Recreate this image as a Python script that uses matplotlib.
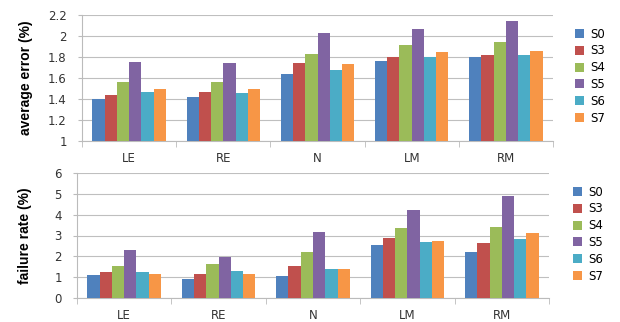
import matplotlib
matplotlib.use("Agg")
import matplotlib.pyplot as plt
import numpy as np

categories = ["LE", "RE", "N", "LM", "RM"]
series = ["S0", "S3", "S4", "S5", "S6", "S7"]
colors = ["#4F81BD", "#C0504D", "#9BBB59", "#8064A2", "#4BACC6", "#F79646"]

avg_S0 = [1.40, 1.42, 1.64, 1.76, 1.80]
avg_S3 = [1.44, 1.47, 1.74, 1.80, 1.82]
avg_S4 = [1.56, 1.56, 1.83, 1.91, 1.94]
avg_S5 = [1.75, 1.74, 2.03, 2.07, 2.14]
avg_S6 = [1.47, 1.46, 1.68, 1.80, 1.82]
avg_S7 = [1.50, 1.50, 1.73, 1.85, 1.86]

fail_S0 = [1.09, 0.92, 1.06, 2.54, 2.22]
fail_S3 = [1.25, 1.17, 1.56, 2.86, 2.62]
fail_S4 = [1.56, 1.62, 2.19, 3.36, 3.39]
fail_S5 = [2.30, 1.98, 3.15, 4.23, 4.90]
fail_S6 = [1.24, 1.29, 1.41, 2.67, 2.85]
fail_S7 = [1.14, 1.14, 1.37, 2.72, 3.12]

avg_data = [avg_S0, avg_S3, avg_S4, avg_S5, avg_S6, avg_S7]
fail_data = [fail_S0, fail_S3, fail_S4, fail_S5, fail_S6, fail_S7]

W, H = 620, 322
fig = plt.figure(figsize=(6.2, 3.22), dpi=100)

def draw(rect, data, ylim, yticks, yticklabels, ylabel, legend_anchor):
    ax = fig.add_axes(rect)
    x = np.arange(len(categories))
    bw = 0.13
    for i, (s, vals) in enumerate(zip(series, data)):
        off = (i - 2.5) * bw
        ax.bar(x + off, [v - ylim[0] for v in vals], bw, bottom=ylim[0],
               color=colors[i], label=s, zorder=3)
    ax.set_xlim(-0.5, len(categories) - 0.5)
    ax.set_ylim(*ylim)
    ax.set_yticks(yticks)
    ax.set_yticklabels(yticklabels, fontsize=8.5, color="#333333")
    ax.set_xticks(x)
    ax.set_xticklabels(categories, fontsize=8.5, color="#333333")
    ax.tick_params(axis="x", length=0, pad=8)
    ax.tick_params(axis="y", length=3, color="#BBBBBB", pad=8)
    ax.set_xticks(np.arange(-0.5, len(categories) + 0.5, 1), minor=True)
    ax.tick_params(axis="x", which="minor", length=4, color="#BBBBBB")
    ax.yaxis.grid(True, color="#BFBFBF", linewidth=0.8, zorder=0)
    for sp in ["top", "right"]:
        ax.spines[sp].set_visible(False)
    for sp in ["left", "bottom"]:
        ax.spines[sp].set_color("#BBBBBB")
    ax.set_ylabel(ylabel, fontsize=10, fontweight="bold", family="Liberation Sans")
    ax.legend(loc="upper left", bbox_to_anchor=legend_anchor, frameon=False,
              fontsize=8.5, handlelength=0.8, handleheight=0.8,
              labelspacing=0.32, handletextpad=0.5, borderaxespad=0)
    return ax

ax1 = draw([82 / W, 1 - 141 / H, (553 - 82) / W, (141 - 15) / H], avg_data,
           (1, 2.2), [1, 1.2, 1.4, 1.6, 1.8, 2.0, 2.2],
           ["1", "1.2", "1.4", "1.6", "1.8", "2", "2.2"], "average error (%)",
           ((570 - 82) / (553 - 82), 1 - (23 - 15) / 126))
ax1.yaxis.set_label_coords(-0.105, 0.5)

ax2 = draw([77 / W, 1 - 298 / H, (549 - 77) / W, (298 - 173) / H], fail_data,
           (0, 6), [0, 1, 2, 3, 4, 5, 6], ["0", "1", "2", "3", "4", "5", "6"],
           "failure rate (%)",
           ((568 - 77) / (549 - 77), 1 - (181 - 173) / 125))
ax2.yaxis.set_label_coords(-0.095, 0.5)

fig.savefig("out.png", dpi=100)
